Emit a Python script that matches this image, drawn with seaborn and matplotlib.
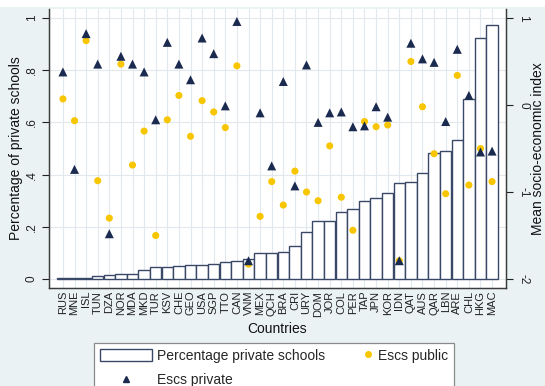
import numpy as np
import pandas as pd
import matplotlib
matplotlib.use("Agg")
import matplotlib.pyplot as plt
import seaborn as sns
from matplotlib.patches import Patch, Rectangle
from matplotlib.lines import Line2D
from matplotlib.legend_handler import HandlerLine2D

countries = ["RUS", "MNE", "ISL", "TUN", "DZA", "NOR", "MDA", "MKD", "TUR", "KSV",
             "CHE", "GEO", "USA", "SGP", "TTO", "CAN", "VNM", "MEX", "QCH", "BRA",
             "CRI", "URY", "DOM", "JOR", "COL", "PER", "TAP", "JPN", "KOR", "IDN",
             "QAT", "AUS", "QAR", "LBN", "ARE", "CHL", "HKG", "MAC"]
pct_private = [0.005, 0.005, 0.005, 0.010, 0.015, 0.018, 0.020, 0.035, 0.045, 0.045,
               0.051, 0.053, 0.055, 0.057, 0.065, 0.068, 0.078, 0.098, 0.098, 0.104,
               0.126, 0.179, 0.223, 0.223, 0.255, 0.268, 0.299, 0.309, 0.331, 0.366,
               0.373, 0.405, 0.482, 0.490, 0.533, 0.691, 0.922, 0.973]
escs_public = [0.07, -0.18, 0.74, -0.87, -1.30, 0.47, -0.69, -0.30, -1.50, -0.17,
               0.11, -0.36, 0.05, -0.08, -0.26, 0.45, -1.83, -1.28, -0.88, -1.15,
               -0.76, -1.00, -1.10, -0.47, -1.06, -1.44, -0.19, -0.25, -0.23, -1.79,
               0.50, -0.02, -0.56, -1.02, 0.34, -0.92, -0.50, -0.88]
escs_private = [0.38, -0.74, 0.82, 0.47, -1.48, 0.56, 0.47, 0.38, -0.17, 0.72,
                0.47, 0.29, 0.77, 0.59, -0.01, 0.96, -1.79, -0.09, -0.70, 0.27,
                -0.93, 0.46, -0.20, -0.09, -0.08, -0.25, -0.24, -0.02, -0.14, -1.79,
                0.71, 0.53, 0.49, -0.19, 0.64, 0.11, -0.54, -0.53]
left_ticks = [0, 0.2, 0.4, 0.6, 0.8, 1]
left_ticklabels = ["0", ".2", ".4", ".6", ".8", "1"]
right_ticks = [-2, -1, 0, 1]
right_ticklabels = ["-2", "-1", "0", "1"]

BG = "#EAF2F3"
NAVY = "#1B2A4F"
YELLOW = "#F7C600"
EDGE = "#3A4868"
GRID = "#E1E8EE"
SPINE = "#3C3C3C"

sns.set_theme(style="white")
plt.rcParams["font.family"] = ["Liberation Sans", "DejaVu Sans"]

df = pd.DataFrame({
    "country": countries,
    "pos": np.arange(len(countries)),
    "pct": pct_private,
    "public": escs_public,
    "private": escs_private,
})

W, H = 545, 386
fig = plt.figure(figsize=(W / 100, H / 100), dpi=100, facecolor=BG)
fig.patches.append(Rectangle((0, 1 - 7 / H), 1, 7 / H, transform=fig.transFigure,
                             facecolor="white", edgecolor="none", zorder=-1))
L, R, B, T = 49, 506, 288, 9
ax = fig.add_axes([L / W, 1 - B / H, (R - L) / W, (B - T) / H])
ax.set_facecolor("white")

sns.barplot(data=df, x="country", y="pct", ax=ax, color="white", saturation=1,
            edgecolor=EDGE, linewidth=1.0, width=0.97, zorder=2)

ax2 = ax.twinx()
sns.scatterplot(data=df, x="pos", y="public", ax=ax2, color=YELLOW, marker="o",
                s=26, edgecolor="none", linewidth=0, zorder=3, legend=False)
sns.scatterplot(data=df, x="pos", y="private", ax=ax2, color=NAVY, marker="^",
                s=42, edgecolor="none", linewidth=0, zorder=4, legend=False)

ax.set_xlim(-1.2, len(countries) - 1 + 1.2)
ax.set_ylim(-9 / 261, 1 + 9 / 261)
ax2.set_ylim(-2 - 27 / 261, 1 + 27 / 261)

ax.set_xticks(range(len(countries)))
ax.set_xticklabels(countries, rotation=90, fontsize=8)
ax.tick_params(axis="x", length=0, pad=2, colors="#222222")
ax.set_yticks(left_ticks)
ax.set_yticklabels(left_ticklabels, rotation=90, va="center", fontsize=8.5)
ax.tick_params(axis="y", length=5, width=0.8, pad=3, colors="#222222", left=True)
ax2.set_yticks(right_ticks)
ax2.set_yticklabels(right_ticklabels, rotation=270, va="center", fontsize=8.5)
ax2.tick_params(axis="y", length=5, width=0.8, pad=3, colors="#222222", right=True)

ax.grid(True, axis="both", color=GRID, linewidth=0.8)
ax.set_axisbelow(True)

for a in (ax, ax2):
    a.spines["top"].set_visible(False)
    for s in ("left", "bottom", "right"):
        a.spines[s].set_color(SPINE)
        a.spines[s].set_linewidth(0.9)

ax.set_xlabel("Countries", fontsize=10, labelpad=4, color="#111111")
ax.set_ylabel("Percentage of private schools", fontsize=10, labelpad=2, color="#111111")
ax2.set_ylabel("Mean socio-economic index", fontsize=10, labelpad=1, rotation=90,
               color="#111111")


class RightMarkerHandler(HandlerLine2D):
    def get_xdata(self, legend, xdescent, ydescent, width, height, fontsize):
        m = -xdescent + width - 3.0
        xdata = np.array([m - 1.0, m + 1.0])
        return xdata, np.array([m])


h_bar = Patch(facecolor="white", edgecolor=EDGE, linewidth=1.0)
h_priv = Line2D([], [], marker="^", color=NAVY, linestyle="none", markersize=5)
h_pub = Line2D([], [], marker="o", color=YELLOW, linestyle="none", markersize=4)
leg = fig.legend([h_bar, h_priv, h_pub],
                 ["Percentage private schools", "Escs private", "Escs public"],
                 ncol=2, loc="upper left", bbox_to_anchor=(94 / W, 1 - 342.7 / H),
                 borderaxespad=0,
                 fontsize=10, frameon=True, fancybox=False, framealpha=1,
                 facecolor="white", edgecolor="#8A8A8A", borderpad=0.45,
                 handlelength=3.7, handleheight=1.0, handletextpad=0.4,
                 labelspacing=0.75, columnspacing=-0.3,
                 handler_map={h_pub: RightMarkerHandler(numpoints=1)})
leg.get_frame().set_linewidth(0.9)

fig.savefig("out.png", dpi=100, facecolor=fig.get_facecolor())
